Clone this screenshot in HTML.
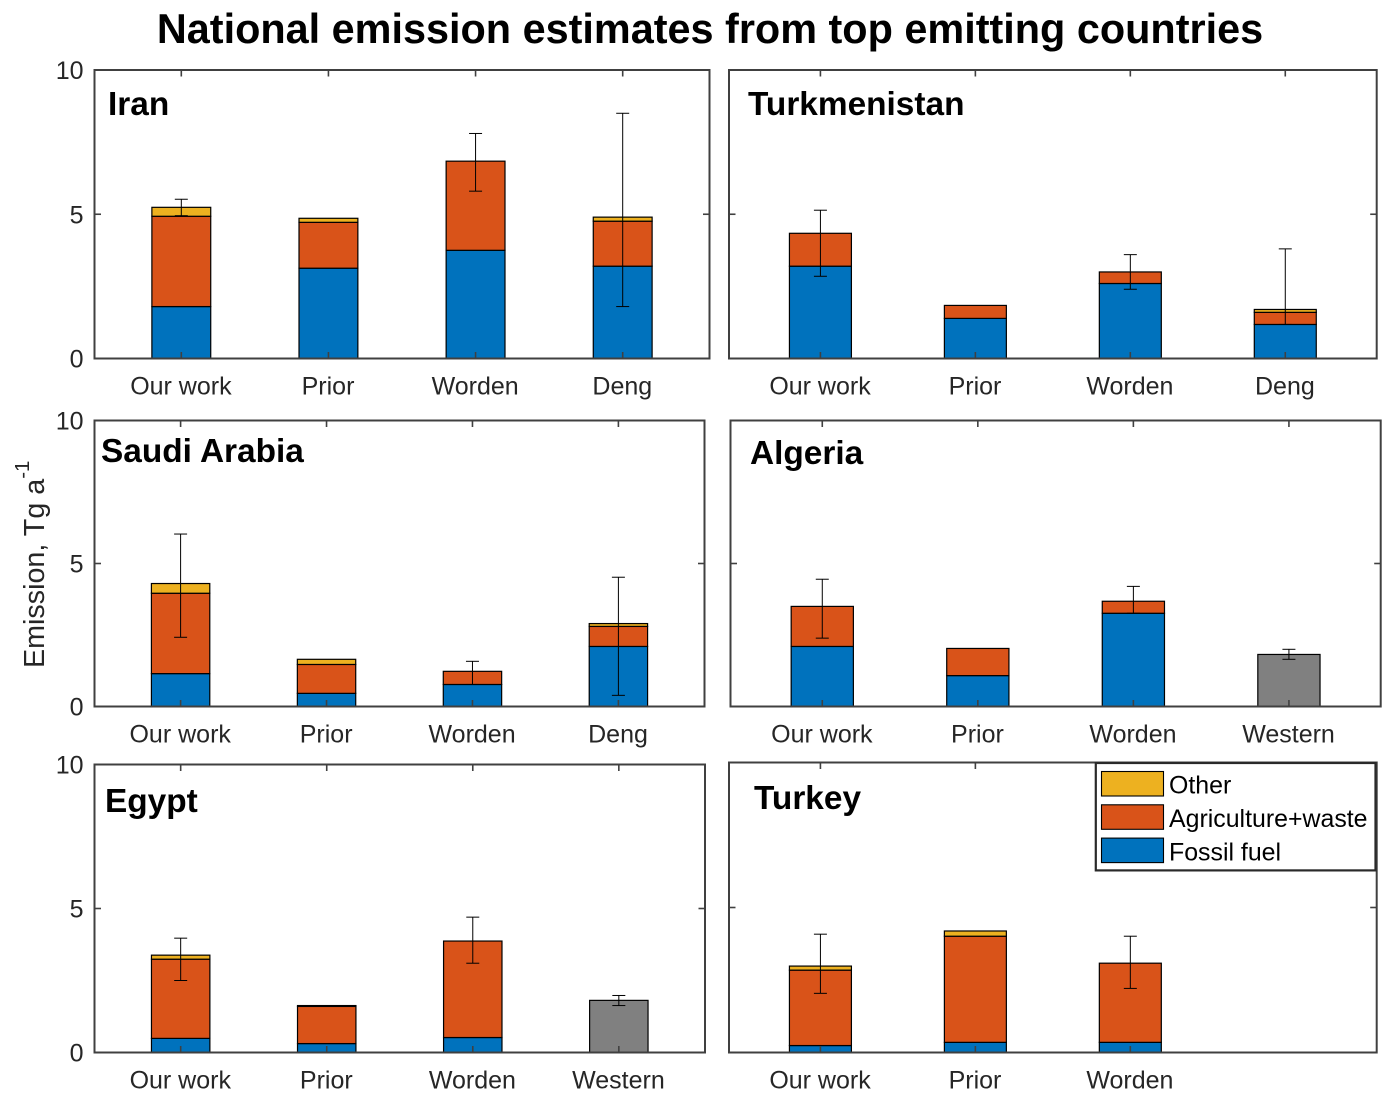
<!DOCTYPE html>
<html>
<head>
<meta charset="utf-8">
<title>National emission estimates from top emitting countries</title>
<style>
html,body{margin:0;padding:0;background:#fff;}
svg{display:block;}
text{font-family:"Liberation Sans",Arial,sans-serif;}
</style>
</head>
<body>
<svg id="chart" xmlns="http://www.w3.org/2000/svg" width="1394" height="1101" viewBox="0 0 1394 1101">
<text x="710" y="43" text-anchor="middle" font-size="41.4" font-weight="bold" fill="#000">National emission estimates from top emitting countries</text>
<text transform="translate(44,668) rotate(-90)" font-size="28.7" fill="#262626">Emission, Tg a<tspan dy="-15" font-size="20.5">-1</tspan></text>
</svg>
<script>
var yTicks = [0, 5, 10];

var iranCategories = ['Our work', 'Prior', 'Worden', 'Deng'];
var iranFossil = [1.8, 3.13, 3.75, 3.2];
var iranAgri = [3.13, 1.59, 3.09, 1.56];
var iranOther = [0.31, 0.14, 0, 0.14];
var iranGrey = [0, 0, 0, 0];
var iranErrLow = [4.95, null, 5.8, 1.8];
var iranErrHigh = [5.52, null, 7.8, 8.5];

var turkmenistanCategories = ['Our work', 'Prior', 'Worden', 'Deng'];
var turkmenistanFossil = [3.2, 1.39, 2.6, 1.18];
var turkmenistanAgri = [1.14, 0.45, 0.4, 0.42];
var turkmenistanOther = [0, 0, 0, 0.1];
var turkmenistanGrey = [0, 0, 0, 0];
var turkmenistanErrLow = [2.85, null, 2.4, 1.18];
var turkmenistanErrHigh = [5.14, null, 3.6, 3.8];

var saudiCategories = ['Our work', 'Prior', 'Worden', 'Deng'];
var saudiFossil = [1.15, 0.46, 0.77, 2.1];
var saudiAgri = [2.81, 1.01, 0.46, 0.7];
var saudiOther = [0.34, 0.18, 0, 0.1];
var saudiGrey = [0, 0, 0, 0];
var saudiErrLow = [2.42, null, 0.77, 0.39];
var saudiErrHigh = [6.03, null, 1.58, 4.52];

var algeriaCategories = ['Our work', 'Prior', 'Worden', 'Western'];
var algeriaFossil = [2.1, 1.08, 3.26, 0];
var algeriaAgri = [1.4, 0.95, 0.42, 0];
var algeriaOther = [0, 0, 0, 0];
var algeriaGrey = [0, 0, 0, 1.82];
var algeriaErrLow = [2.39, null, 3.26, 1.65];
var algeriaErrHigh = [4.45, null, 4.2, 2.0];

var egyptCategories = ['Our work', 'Prior', 'Worden', 'Western'];
var egyptFossil = [0.49, 0.31, 0.52, 0];
var egyptAgri = [2.75, 1.29, 3.35, 0];
var egyptOther = [0.14, 0.03, 0, 0];
var egyptGrey = [0, 0, 0, 1.81];
var egyptErrLow = [2.5, null, 3.1, 1.63];
var egyptErrHigh = [3.97, null, 4.7, 1.98];

var turkeyCategories = ['Our work', 'Prior', 'Worden'];
var turkeyFossil = [0.24, 0.35, 0.35];
var turkeyAgri = [2.6, 3.66, 2.73];
var turkeyOther = [0.14, 0.18, 0];
var turkeyGrey = [0, 0, 0];
var turkeyErrLow = [2.04, null, 2.21];
var turkeyErrHigh = [4.08, null, 4.01];

var legendLabels = ['Other', 'Agriculture+waste', 'Fossil fuel'];

var COLORS = {fossil: '#0072bd', agri: '#d95319', other: '#edb120', grey: '#808080'};
var svg = document.getElementById('chart');
var NS = 'http://www.w3.org/2000/svg';

function mk(tag, name, attrs, parent, txt) {
  var el = document.createElementNS(NS, tag);
  
  
  for (var k in attrs) el.setAttribute(k, attrs[k]);
  if (txt !== undefined) el.textContent = txt;
  (parent || svg).appendChild(el);
  return el;
}

function drawPanel(p) {
  var slug = p.title.toLowerCase().replace(/\s+/g, '-');
  var g = mk('g', slug + '-panel', {}, svg);
  var w = p.r - p.l;
  var unit = w / 4.18;
  function xs(i) { return p.l + (i + 1 - 0.41) * unit; }
  function ys(v) { return p.b - (v / 10) * (p.b - p.t); }
  var halfBar = 0.2 * unit;

  function bar(i, from, to, fill, label) {
    if (to <= from) return;
    mk('rect', slug + '-bar-' + label + '-' + i, {
      x: xs(i) - halfBar, y: ys(to), width: 2 * halfBar, height: ys(from) - ys(to),
      fill: fill, stroke: '#000', 'stroke-width': 1.2
    }, g);
  }

  for (var i = 0; i < p.cats.length; i++) {
    var s0 = 0, s1 = p.fossil[i], s2 = s1 + p.agri[i], s3 = s2 + p.other[i];
    bar(i, s0, s1, COLORS.fossil, 'fossil');
    bar(i, s1, s2, COLORS.agri, 'agriculture');
    bar(i, s2, s3, COLORS.other, 'other');
    bar(i, 0, p.grey[i], COLORS.grey, 'reference');
  }

  // error bars
  for (var j = 0; j < p.cats.length; j++) {
    if (p.low[j] === null || p.high[j] === null) continue;
    var cx = xs(j), yl = ys(p.low[j]), yh = ys(p.high[j]);
    mk('line', slug + '-error-stem-' + j, {x1: cx, x2: cx, y1: yl, y2: yh, stroke: '#000', 'stroke-width': 1}, g);
    mk('line', slug + '-error-cap-high-' + j, {x1: cx - 6.5, x2: cx + 6.5, y1: yh, y2: yh, stroke: '#000', 'stroke-width': 1}, g);
    mk('line', slug + '-error-cap-low-' + j, {x1: cx - 6.5, x2: cx + 6.5, y1: yl, y2: yl, stroke: '#000', 'stroke-width': 1}, g);
  }

  // axes box
  mk('rect', slug + '-axes-box', {x: p.l, y: p.t, width: w, height: p.b - p.t, fill: 'none', stroke: '#404040', 'stroke-width': 2}, g);

  // x ticks, one per category, top and bottom
  for (var t = 0; t < p.cats.length; t++) {
    var tx = xs(t);
    mk('line', slug + '-xtick-bottom-' + t, {x1: tx, x2: tx, y1: p.b, y2: p.b - 6.5, stroke: '#404040', 'stroke-width': 1.6}, g);
    mk('line', slug + '-xtick-top-' + t, {x1: tx, x2: tx, y1: p.t, y2: p.t + 6.5, stroke: '#404040', 'stroke-width': 1.6}, g);
  }
  for (var c = 0; c < p.cats.length; c++) {
    mk('text', slug + '-xlabel-' + c, {x: xs(c) - 0.4, y: p.b + 36, 'text-anchor': 'middle', 'font-size': 25, fill: '#262626'}, g, p.cats[c]);
  }

  // y ticks
  yTicks.forEach(function (v, idx) {
    var ty = ys(v);
    mk('line', slug + '-ytick-left-' + idx, {x1: p.l, x2: p.l + 6.5, y1: ty, y2: ty, stroke: '#404040', 'stroke-width': 1.6}, g);
    mk('line', slug + '-ytick-right-' + idx, {x1: p.r, x2: p.r - 6.5, y1: ty, y2: ty, stroke: '#404040', 'stroke-width': 1.6}, g);
    if (p.yLabels) {
      mk('text', slug + '-ylabel-' + idx, {x: p.l - 11, y: ty + 9, 'text-anchor': 'end', 'font-size': 25, fill: '#262626'}, g, String(v));
    }
  });

  mk('text', slug + '-country-label', {x: p.lx, y: p.ly, 'font-size': 33.4, 'font-weight': 'bold', fill: '#000'}, g, p.title);
}

drawPanel({title: 'Iran', l: 94.5, r: 709.5, t: 70, b: 358.5, yLabels: true, lx: 108, ly: 115,
  cats: iranCategories, fossil: iranFossil, agri: iranAgri, other: iranOther, grey: iranGrey, low: iranErrLow, high: iranErrHigh});
drawPanel({title: 'Turkmenistan', l: 729, r: 1376.7, t: 70, b: 358.5, yLabels: false, lx: 748, ly: 115,
  cats: turkmenistanCategories, fossil: turkmenistanFossil, agri: turkmenistanAgri, other: turkmenistanOther, grey: turkmenistanGrey, low: turkmenistanErrLow, high: turkmenistanErrHigh});
drawPanel({title: 'Saudi Arabia', l: 94.5, r: 704.5, t: 420.5, b: 706.5, yLabels: true, lx: 101, ly: 462,
  cats: saudiCategories, fossil: saudiFossil, agri: saudiAgri, other: saudiOther, grey: saudiGrey, low: saudiErrLow, high: saudiErrHigh});
drawPanel({title: 'Algeria', l: 730.5, r: 1380.7, t: 420.5, b: 706.5, yLabels: false, lx: 750, ly: 464,
  cats: algeriaCategories, fossil: algeriaFossil, agri: algeriaAgri, other: algeriaOther, grey: algeriaGrey, low: algeriaErrLow, high: algeriaErrHigh});
drawPanel({title: 'Egypt', l: 94.5, r: 705, t: 764.5, b: 1052.5, yLabels: true, lx: 105, ly: 812,
  cats: egyptCategories, fossil: egyptFossil, agri: egyptAgri, other: egyptOther, grey: egyptGrey, low: egyptErrLow, high: egyptErrHigh});
drawPanel({title: 'Turkey', l: 729, r: 1376.7, t: 762.5, b: 1052.5, yLabels: false, lx: 754, ly: 809,
  cats: turkeyCategories, fossil: turkeyFossil, agri: turkeyAgri, other: turkeyOther, grey: turkeyGrey, low: turkeyErrLow, high: turkeyErrHigh});

// legend
var lg = mk('g', 'legend', {}, svg);
mk('rect', 'legend-box', {x: 1095.8, y: 763, width: 279.7, height: 107.4, fill: '#fff', stroke: '#2a2a2a', 'stroke-width': 2.2}, lg);
var swatchColors = [COLORS.other, COLORS.agri, COLORS.fossil];
legendLabels.forEach(function (label, i) {
  var slug = label.toLowerCase().replace(/[^a-z]+/g, '-');
  mk('rect', 'legend-swatch-' + slug, {x: 1101.5, y: 771.5 + i * 33.3, width: 62, height: 24.5, fill: swatchColors[i], stroke: '#000', 'stroke-width': 1.1}, lg);
  mk('text', 'legend-label-' + slug, {x: 1169, y: 793.5 + i * 33.5, 'font-size': 24.9, fill: '#000'}, lg, label);
});
</script>
</body>
</html>
